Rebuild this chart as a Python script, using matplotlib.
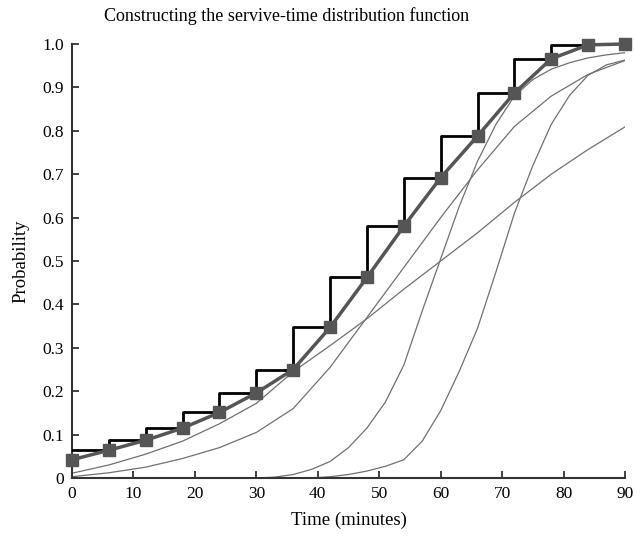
import matplotlib
matplotlib.use("Agg")
import matplotlib.pyplot as plt
from matplotlib.ticker import FixedLocator, FixedFormatter

plt.rcParams['font.family'] = ['Liberation Serif', 'DejaVu Serif']

# Empirical distribution (squares) every 6 minutes
t_emp = [0, 6, 12, 18, 24, 30, 36, 42, 48, 54, 60, 66, 72, 78, 84, 90]
p_emp = [0.042, 0.064, 0.087, 0.115, 0.151, 0.196, 0.250, 0.347, 0.462, 0.580,
         0.692, 0.788, 0.887, 0.966, 0.998, 1.0]

# Step (upper bound) function: level over each interval = next square's value
t_step = [0, 6, 12, 18, 24, 30, 36, 42, 48, 54, 60, 66, 72, 78, 84]
p_step = [0.064, 0.087, 0.115, 0.151, 0.196, 0.250, 0.347, 0.462, 0.580,
          0.692, 0.788, 0.887, 0.966, 0.998, 0.998]

# Thin component curves
t_d = [0, 6, 12, 18, 24, 30, 36, 42, 48, 54, 60, 66, 72, 78, 84, 90]
p_d = [0.011, 0.030, 0.055, 0.085, 0.125, 0.172, 0.245, 0.305, 0.367, 0.435,
       0.500, 0.565, 0.635, 0.700, 0.757, 0.809]

t_c = [0, 6, 12, 18, 24, 30, 36, 42, 48, 54, 60, 66, 72, 78, 84, 90]
p_c = [0.003, 0.012, 0.025, 0.045, 0.070, 0.105, 0.160, 0.255, 0.370, 0.485,
       0.600, 0.710, 0.810, 0.880, 0.930, 0.962]

t_s1 = [30, 33, 36, 39, 42, 45, 48, 51, 54, 57, 60, 63, 66, 69, 72, 75, 78, 81, 84, 87, 90]
p_s1 = [0.0, 0.002, 0.008, 0.020, 0.038, 0.070, 0.115, 0.175, 0.260, 0.385,
        0.505, 0.625, 0.730, 0.815, 0.880, 0.918, 0.942, 0.957, 0.968, 0.975, 0.980]

t_s2 = [36, 39, 42, 45, 48, 51, 54, 57, 60, 63, 66, 69, 72, 75, 78, 81, 84, 87, 90]
p_s2 = [0.0, 0.0, 0.003, 0.008, 0.016, 0.027, 0.042, 0.085, 0.155, 0.245,
        0.345, 0.475, 0.610, 0.720, 0.815, 0.882, 0.928, 0.952, 0.963]

fig = plt.figure(figsize=(6.34, 5.38), dpi=100)
ax = fig.add_axes([72/634, 1-478/538, (625-72)/634, (478-44)/538])

thin = dict(color='#707070', lw=0.9)
ax.plot(t_d, p_d, **thin)
ax.plot(t_c, p_c, **thin)
ax.plot(t_s1, p_s1, **thin)
ax.plot(t_s2, p_s2, **thin)

ax.step(t_step, p_step, where='post', color='black', lw=2.0, zorder=3)
ax.plot(t_emp, p_emp, color='#555555', lw=2.5, zorder=4, clip_on=False)
ax.plot(t_emp, p_emp, ls='none', marker='s', ms=9, color='#555555', zorder=5, clip_on=False)

ax.set_xlim(0, 90)
ax.set_ylim(0, 1)
for s in ['top', 'right']:
    ax.spines[s].set_visible(False)
for s in ['left', 'bottom']:
    ax.spines[s].set_linewidth(1.5)
    ax.spines[s].set_color('#333333')

xt = [0, 10, 20, 30, 40, 50, 60, 70, 80, 90]
yt = [0, 0.1, 0.2, 0.3, 0.4, 0.5, 0.6, 0.7, 0.8, 0.9, 1.0]
ylabels = ['0', '0.1', '0.2', '0.3', '0.4', '0.5', '0.6', '0.7', '0.8', '0.9', '1.0']
ax.xaxis.set_major_locator(FixedLocator(xt))
ax.yaxis.set_major_locator(FixedLocator(yt))
ax.yaxis.set_major_formatter(FixedFormatter(ylabels))
ax.tick_params(direction='in', length=5, width=1.3, labelsize=12.5, color='#333333', pad=6)

fig.text(287/634, 1-16/538, 'Constructing the servive-time distribution function',
         fontsize=13, ha='center', va='center')
ax.set_xlabel('Time (minutes)', fontsize=13.5, labelpad=7)
ax.set_ylabel('Probability', fontsize=13.5, labelpad=9)

fig.savefig('out.png', dpi=100)
